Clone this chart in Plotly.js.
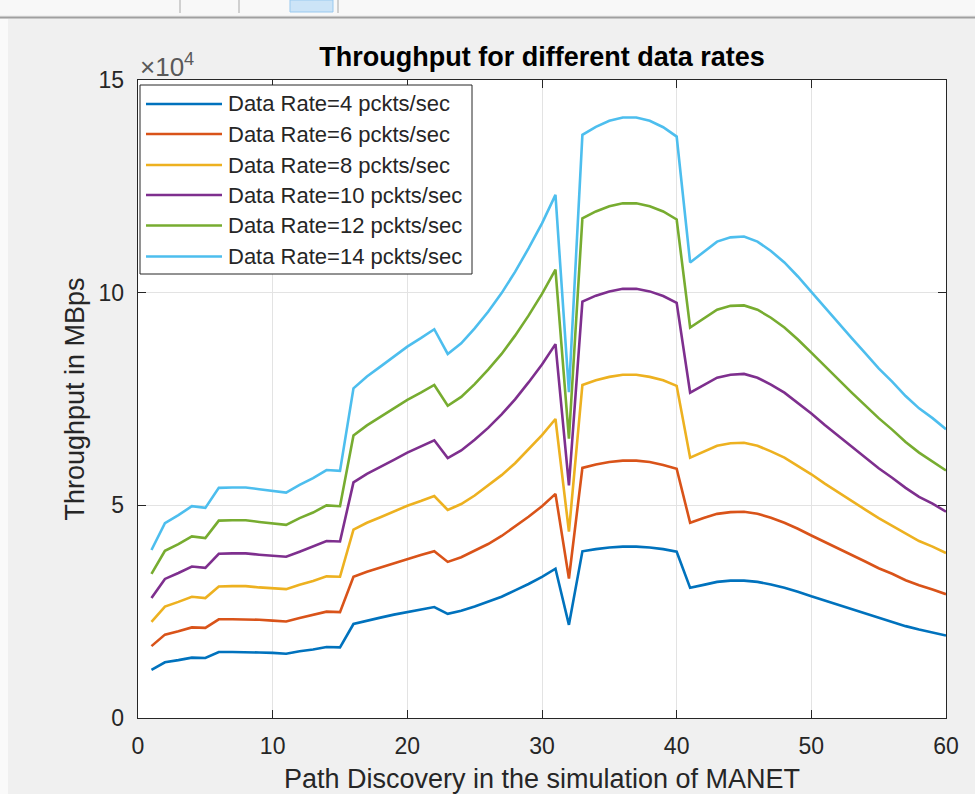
<!DOCTYPE html>
<html>
<head>
<meta charset="utf-8">
<script src="https://cdn.plot.ly/plotly-3.0.1.min.js"></script>
<style>
html,body{margin:0;padding:0;background:#f0f0f0;}
#chart{width:975px;height:794px;}
</style>
</head>
<body>
<div id="chart"></div>
<script>
// Path discovery index (x axis)
const pathDiscovery = [1,2,3,4,5,6,7,8,9,10,11,12,13,14,15,16,17,18,19,20,
  21,22,23,24,25,26,27,28,29,30,31,32,33,34,35,36,37,38,39,40,
  41,42,43,44,45,46,47,48,49,50,51,52,53,54,55,56,57,58,59,60];

const seriesNames = ["Data Rate=4 pckts/sec","Data Rate=6 pckts/sec","Data Rate=8 pckts/sec",
  "Data Rate=10 pckts/sec","Data Rate=12 pckts/sec","Data Rate=14 pckts/sec"];
const seriesColors = ["#0072BD","#D95319","#EDB120","#7E2F8E","#77AC30","#4DBEEE"];

const rate4 = [11300,13100,13600,14200,14100,15500,15500,15500,15400,15300,15100,15700,16100,16700,16600,
  22100,22900,23600,24300,24900,25500,26100,24500,25200,26200,27300,28500,30000,31500,33200,
  35100,21900,39200,39700,40100,40300,40300,40100,39700,39100,30600,31300,32000,32300,32300,
  32000,31400,30600,29700,28600,27600,26500,25500,24500,23500,22600,21600,20800,20100,19400];
const rate6 = [16900,19600,20400,21300,21200,23200,23200,23200,23100,22900,22700,23500,24200,25000,24900,
  33200,34400,35400,36400,37400,38300,39200,36700,37800,39300,40900,42800,45000,47300,49800,
  52700,32800,58800,59600,60200,60500,60500,60200,59500,58600,45900,47000,48000,48400,48500,
  48000,47100,45900,44500,42900,41400,39800,38300,36800,35200,33900,32400,31200,30200,29100];
const rate8 = [22600,26200,27300,28500,28200,30900,31000,31000,30700,30500,30300,31300,32200,33300,33200,
  44300,45900,47200,48600,49900,51000,52200,48900,50300,52300,54600,57100,59900,63100,66500,
  70300,43800,78300,79400,80200,80700,80700,80200,79400,78100,61200,62600,64000,64600,64700,
  64000,62700,61200,59300,57300,55100,53000,51000,49000,47000,45200,43300,41600,40300,38800];
const rate10 = [28200,32700,34100,35600,35300,38600,38700,38700,38400,38100,37900,39100,40300,41600,41500,
  55400,57400,59000,60700,62400,63800,65300,61100,62900,65400,68200,71400,74900,78900,83100,
  87900,54700,97900,99300,100300,100900,100900,100300,99200,97600,76500,78300,80000,80700,80900,
  80000,78400,76500,74100,71600,68900,66300,63800,61300,58700,56500,54100,52000,50400,48500];
const rate12 = [33900,39300,40900,42700,42300,46400,46500,46500,46100,45800,45400,47000,48300,50000,49800,
  66400,68800,70800,72900,74800,76500,78300,73400,75500,78500,81900,85600,89900,94600,99700,
  105400,65700,117500,119100,120300,121000,121000,120300,119100,117200,91800,93900,96000,96900,97000,
  96000,94100,91800,89000,85900,82700,79500,76500,73500,70500,67800,64900,62400,60400,58200];
const rate14 = [39500,45800,47700,49800,49400,54100,54200,54200,53800,53400,53000,54800,56400,58300,58100,
  77500,80300,82600,85000,87300,89300,91400,85600,88100,91600,95500,99900,104900,110400,116300,
  123000,76600,137100,139000,140400,141200,141200,140400,138900,136700,107100,109600,112000,113000,113200,
  112000,109800,107100,103800,100200,96500,92800,89300,85800,82200,79100,75700,72800,70500,67900];

const allSeries = [rate4, rate6, rate8, rate10, rate12, rate14];

const yTickVals = [0, 50000, 100000, 150000];
const yTickText = ["0", "5", "10", "15"];
const xTickVals = [0, 10, 20, 30, 40, 50, 60];

// plot area in pixels
const L = 138, R = 946, T = 80, B = 718, W = 975, H = 794;
const px = v => (v - L) / (R - L);
const py = v => (B - v) / (B - T);

const traces = allSeries.map((ys, i) => ({
  x: pathDiscovery, y: ys, type: "scatter", mode: "lines",
  name: seriesNames[i], line: {color: seriesColors[i], width: 2.6},
  showlegend: false, hoverinfo: "skip"
}));

const FONT = "Liberation Sans, Arial, Helvetica, sans-serif";
const INK = "#262626";

const shapes = [];
const annotations = [];

// MATLAB window chrome: toolbar strip and separators
shapes.push({type:"rect", xref:"paper", yref:"paper", x0:px(0), x1:px(W), y0:py(0), y1:py(15),
  fillcolor:"#f8f8f8", line:{width:0}, layer:"below"});
shapes.push({type:"line", xref:"paper", yref:"paper", x0:px(0), x1:px(W), y0:py(17.5), y1:py(17.5),
  line:{color:"#a0a0a0", width:2}});
[180, 239, 338].forEach(xx => shapes.push({type:"line", xref:"paper", yref:"paper",
  x0:px(xx), x1:px(xx), y0:py(0), y1:py(13), line:{color:"#a8a8a8", width:1}}));
shapes.push({type:"rect", xref:"paper", yref:"paper", x0:px(290), x1:px(333), y0:py(0), y1:py(12),
  fillcolor:"#cce4f7", line:{color:"#99c9ef", width:1}});
shapes.push({type:"rect", xref:"paper", yref:"paper", x0:px(0), x1:px(8), y0:py(19), y1:py(H),
  fillcolor:"#fafafa", line:{width:0}, layer:"below"});

// custom legend (MATLAB style)
shapes.push({type:"rect", xref:"paper", yref:"paper", x0:px(140), x1:px(472), y0:py(85), y1:py(274),
  fillcolor:"#ffffff", line:{color:INK, width:1}});
const rowY = [104, 134, 165, 195, 225.5, 256.5];
seriesNames.forEach((nm, i) => {
  shapes.push({type:"line", xref:"paper", yref:"paper", x0:px(146), x1:px(222),
    y0:py(rowY[i]), y1:py(rowY[i]), line:{color:seriesColors[i], width:2.6}});
  annotations.push({xref:"paper", yref:"paper", x:px(226), y:py(rowY[i]), xanchor:"left", yanchor:"middle",
    text:nm, showarrow:false, font:{family:FONT, size:22, color:INK}});
});

// exponent label
annotations.push({xref:"paper", yref:"paper", x:px(138), y:py(65), xanchor:"left", yanchor:"middle",
  text:"×10<sup>4</sup>", showarrow:false, font:{family:FONT, size:26, color:"#595959"}});

const layout = {
  width: W, height: H,
  paper_bgcolor: "#f0f0f0",
  plot_bgcolor: "#ffffff",
  margin: {l: L, r: W - R, t: T, b: H - B, pad: 0},
  showlegend: false,
  title: {text: "<b>Throughput for different data rates</b>", x: 0.5, xref: "paper",
    y: 1 - 57 / H, yref: "container", yanchor: "middle",
    font: {family: FONT, size: 27, color: "#000000"}},
  xaxis: {
    range: [0, 60], tickvals: xTickVals, ticks: "inside", ticklen: 8, tickcolor: INK, tickwidth: 1,
    showline: true, linecolor: INK, linewidth: 1.3, mirror: "ticks",
    showgrid: true, gridcolor: "#e3e3e3", gridwidth: 1, zeroline: false,
    tickfont: {family: FONT, size: 23, color: INK}, ticklabelstandoff: 7,
    title: {text: "Path Discovery in the simulation of MANET", font: {family: FONT, size: 27, color: INK}, standoff: 15},
    automargin: false
  },
  yaxis: {
    range: [0, 150000], tickvals: yTickVals, ticktext: yTickText, ticks: "inside", ticklen: 8, tickcolor: INK, tickwidth: 1,
    showline: true, linecolor: INK, linewidth: 1.3, mirror: "ticks",
    showgrid: true, gridcolor: "#e3e3e3", gridwidth: 1, zeroline: false,
    tickfont: {family: FONT, size: 23, color: INK}, ticklabelstandoff: 8,
    title: {text: "Throughput in MBps", font: {family: FONT, size: 27, color: INK}, standoff: 6},
    automargin: false
  },
  shapes: shapes,
  annotations: annotations
};

Plotly.newPlot("chart", traces, layout, {displayModeBar: false, staticPlot: true});
</script>
</body>
</html>
